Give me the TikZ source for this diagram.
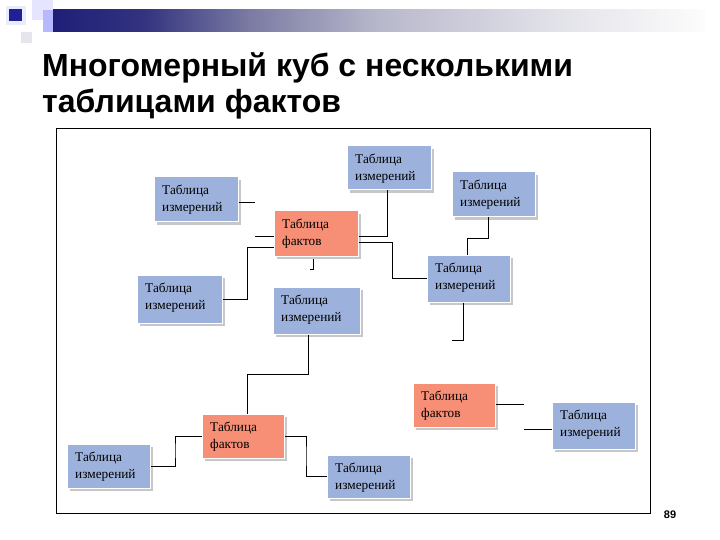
\documentclass[tikz,border=0pt]{standalone}
\usepackage{fontspec}
\setmainfont{Liberation Serif}
\newfontfamily\titlefont{Liberation Sans}
\definecolor{dimblue}{RGB}{156,178,220}
\definecolor{factsalmon}{RGB}{247,143,118}
\definecolor{sqnavy}{RGB}{32,32,150}
\pgfdeclarehorizontalshading{barshade}{100bp}{rgb(0bp)=(0.12,0.12,0.47); rgb(25bp)=(0.12,0.12,0.47); rgb(32bp)=(0.2,0.2,0.5); rgb(40bp)=(0.48,0.48,0.64); rgb(50bp)=(0.72,0.72,0.8); rgb(63bp)=(0.88,0.88,0.91); rgb(75bp)=(0.99,0.99,0.99); rgb(100bp)=(1,1,1)}
\tikzset{
  tbox/.style={draw=white, line width=1pt, inner sep=0pt,
    preaction={fill=black!22, transform canvas={xshift=3pt,yshift=-3pt}}},
  dimbox/.style={tbox, fill=dimblue},
  factbox/.style={tbox, fill=factsalmon},
  lbl/.style={anchor=north west, inner sep=0pt, align=left,
    font=\fontsize{13.3}{16.5}\selectfont},
  conn/.style={draw=black, line width=0.9pt},
}
\newcommand{\boxlabel}[2]{\node[lbl] at ([xshift=8.5pt,yshift=-8.5pt]#1.north west) {#2};}
\begin{document}
\begin{tikzpicture}[x=1pt,y=-1pt]
\useasboundingbox (0,0) rectangle (720,540);
\fill[white] (0,0) rectangle (720,540);
% header decoration
\fill[black!6!blue!8] (6,6) rectangle (26,25);
\fill[sqnavy] (9,9) rectangle (22,21);
\fill[blue!10!white] (32,0) rectangle (53,20);
\fill[blue!28!white] (43,10) rectangle (53,32);
\fill[blue!35!black!10!white] (21,32) rectangle (32,43);
\shade[shading=barshade] (53,10) rectangle (705,32);
% title
\node[anchor=base west, inner sep=0pt, font=\titlefont\bfseries\fontsize{32}{37}\selectfont] (t1) at (42,77) {Многомерный куб с несколькими};
\node[anchor=base west, inner sep=0pt, font=\titlefont\bfseries\fontsize{32}{37}\selectfont] (t2) at (42,113) {таблицами фактов};
% frame
\draw[line width=1pt] (56,129) rectangle (650,513);
% boxes
\node[dimbox, minimum width=84, minimum height=44] (b1) at (389,168) {};
\node[dimbox, minimum width=84, minimum height=45] (b2) at (196,199.5) {};
\node[dimbox, minimum width=83, minimum height=45] (b3) at (493.5,194.5) {};
\node[factbox, minimum width=84, minimum height=45] (f1) at (316,233.5) {};
\node[dimbox, minimum width=85, minimum height=48] (b5) at (179.5,299) {};
\node[dimbox, minimum width=87, minimum height=47] (b6) at (316.5,310.5) {};
\node[dimbox, minimum width=83, minimum height=47] (b7) at (468.5,278.5) {};
\node[factbox, minimum width=82, minimum height=44] (f2) at (243,436) {};
\node[dimbox, minimum width=83, minimum height=44] (b9) at (108.5,466) {};
\node[dimbox, minimum width=83, minimum height=43] (b10) at (368.5,476.5) {};
\node[factbox, minimum width=82, minimum height=44] (f3) at (454,405) {};
\node[dimbox, minimum width=83, minimum height=47] (b12) at (593.5,425.5) {};
\boxlabel{b1}{Таблица\\измерений}
\boxlabel{b2}{Таблица\\измерений}
\boxlabel{b3}{Таблица\\измерений}
\boxlabel{f1}{Таблица\\фактов}
\boxlabel{b5}{Таблица\\измерений}
\boxlabel{b6}{Таблица\\измерений}
\boxlabel{b7}{Таблица\\измерений}
\boxlabel{f2}{Таблица\\фактов}
\boxlabel{b9}{Таблица\\измерений}
\boxlabel{b10}{Таблица\\измерений}
\boxlabel{f3}{Таблица\\фактов}
\boxlabel{b12}{Таблица\\измерений}
% connectors
\coordinate (k1) at (255,202);
\draw[conn] (k1 -| b2.east) -- (k1);
\coordinate (k2) at (255,236);
\draw[conn] (k2) -- (k2 -| f1.west);
\coordinate (k3) at (247,247);
\draw[conn] (b5.east) -| (k3) -- (k3 -| f1.west);
\coordinate (k4) at (313,269);
\draw[conn] (k4 |- 0,259) -- (k4) -- ++(-3,0);
\coordinate (k5) at (387,236);
\draw[conn] (k5 -| f1.east) -- (k5) -- (k5 |- b1.south);
\coordinate (k6) at (392,242);
\draw[conn] (k6 -| f1.east) -- (k6) |- (b7.west);
\coordinate (k7a) at (488,238);
\coordinate (k7b) at (467,238);
\draw[conn] (k7a |- b3.south) -- (k7a) -- (k7b) -- (k7b |- b7.north);
\coordinate (k8) at (463,340);
\draw[conn] (k8 |- b7.south) -- (k8) -- ++(-11,0);
\coordinate (k9a) at (308,374);
\coordinate (k9b) at (247,374);
\draw[conn] (k9a |- b6.south) -- (k9a) -- (k9b) -- (k9b |- f2.north);
\coordinate (k10) at (175,450);
\draw[conn] (f2.west) -| (k10) |- (b9.east);
\coordinate (k11) at (306,456);
\draw[conn] (f2.east) -| (k11) |- (b10.west);
\coordinate (k12) at (524,404);
\draw[conn] (k12 -| f3.east) -- (k12);
\coordinate (k13) at (524,429);
\draw[conn] (k13) -- (k13 -| b12.west);
% page number
\node[font=\titlefont\bfseries\fontsize{11}{13}\selectfont, inner sep=0pt] (pn) at (670,515) {89};
\end{tikzpicture}
\end{document}
